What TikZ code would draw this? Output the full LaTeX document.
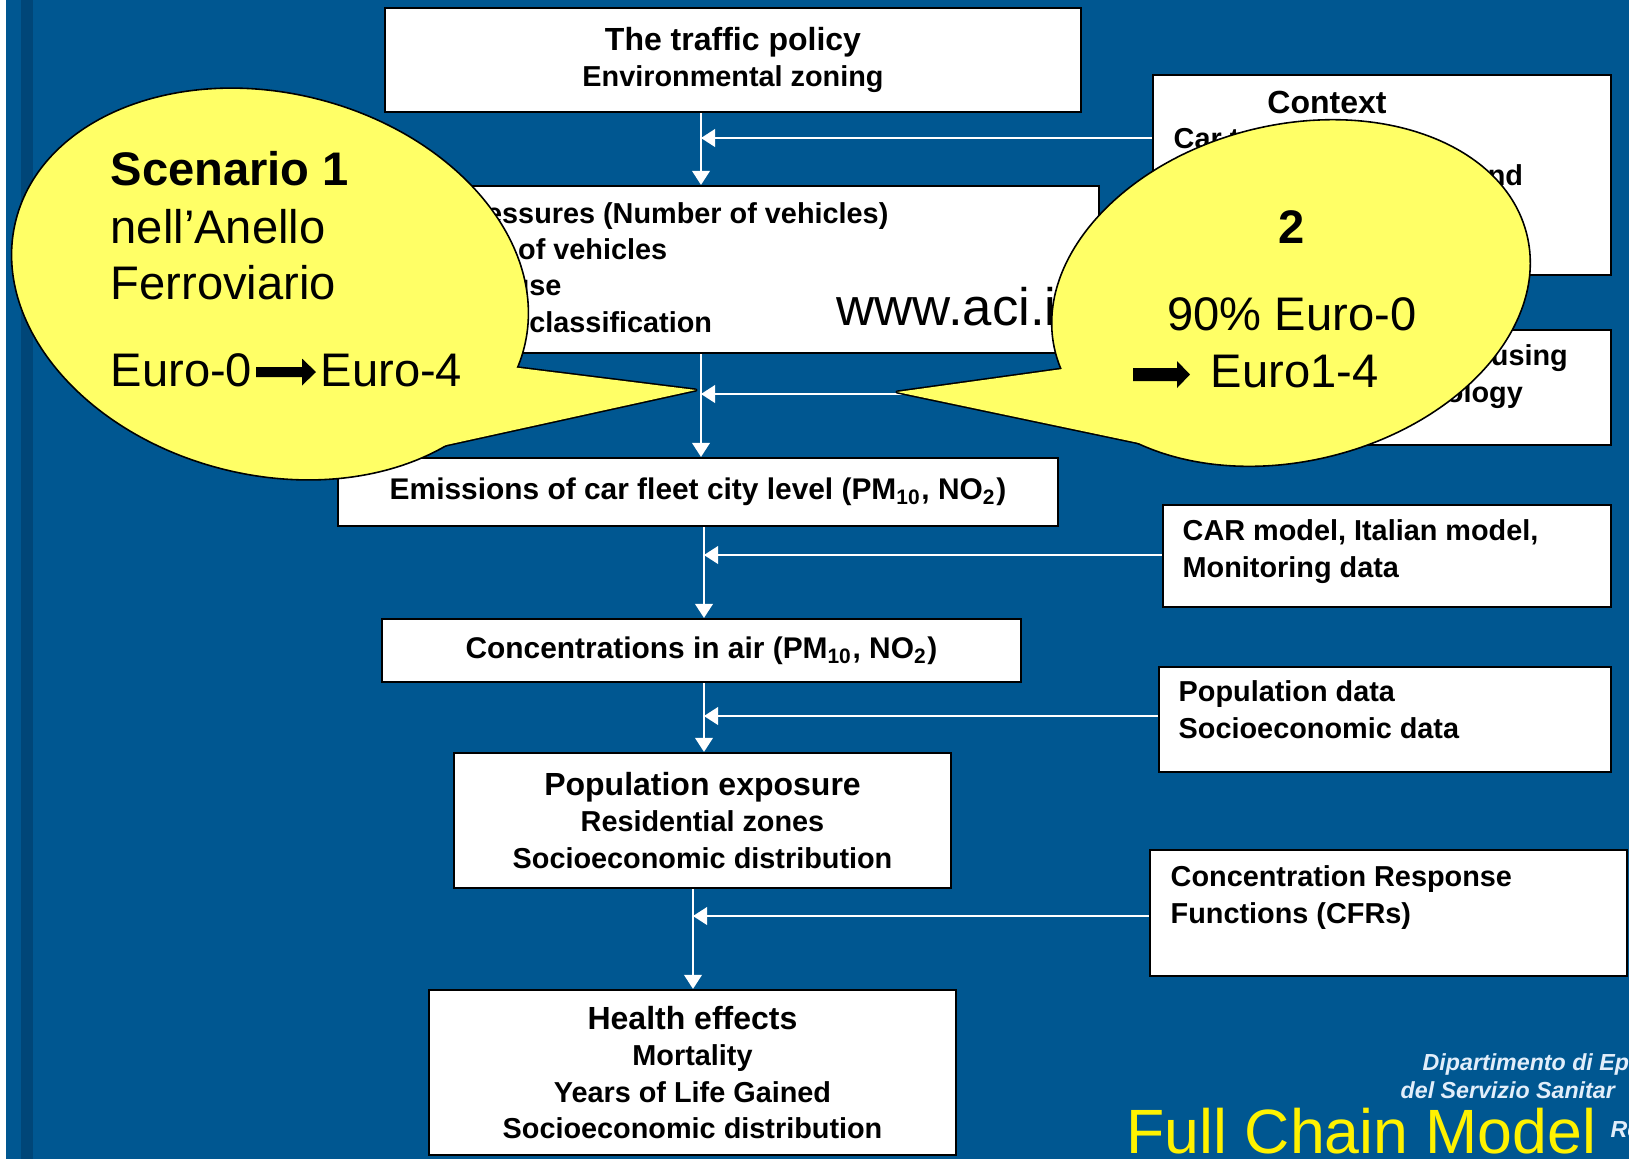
\documentclass[tikz,border=0pt]{standalone}
\usepackage{fontspec}
\setmainfont{Liberation Sans}
\usepackage{tikz}
\usetikzlibrary{calc,positioning,arrows.meta}

\definecolor{slideblue}{RGB}{0,87,145}
\definecolor{stripeblue}{RGB}{0,70,120}
\definecolor{bubbleyellow}{RGB}{255,255,102}
\definecolor{logotext}{RGB}{226,238,250}
\newcommand{\boxhead}{\fontsize{9.1}{10.3}\selectfont}

\begin{document}
\begin{tikzpicture}[x=0.01cm,y=-0.01cm]
\tikzstyle{box}=[draw=black,fill=white,line width=0.6pt,inner sep=0pt,align=center,font=\bfseries\fontsize{8.2}{10.3}\selectfont]
\tikzstyle{boxtext}=[inner sep=0pt,anchor=base west,align=left,font=\bfseries\fontsize{8.2}{10.3}\selectfont]
\tikzstyle{flow}=[white,line width=0.6pt,-{Triangle[length=4pt,width=5pt]}]
\tikzstyle{bubble}=[fill=bubbleyellow,draw=black,line width=0.45pt,line join=round]
\tikzstyle{bubbletext}=[inner sep=0pt,anchor=base west,font=\fontsize{13.4}{16}\selectfont]

\useasboundingbox (0,0) rectangle (1629,1159);
\fill[slideblue] (0,0) rectangle (1629,1159);
\fill[white] (0,0) rectangle (6,1159);
\fill[stripeblue] (21,0) rectangle (33,1159);

% chain of boxes
\node[box,minimum width=6.96cm,minimum height=1.04cm] (policy) at (733,60)
  {{\boxhead The traffic policy}\\Environmental zoning};
\node[box,minimum width=6.79cm,minimum height=1.67cm] (pressures) at (759.5,269.5) {};
\node[boxtext] (pressurestext) at (455,332)
  {Pressures (Number of vehicles)\\Age of vehicles\\Car use\\Euro classification};
\node[box,minimum width=7.20cm,minimum height=0.68cm,font=\bfseries\fontsize{8.5}{10.3}\selectfont] (emissions) at (698,492)
  {Emissions of car fleet city level (PM\textsubscript{10}, NO\textsubscript{2})};
\node[box,minimum width=6.39cm,minimum height=0.63cm,font=\bfseries\fontsize{8.5}{10.3}\selectfont] (concentrations) at (701.5,650.5)
  {Concentrations in air (PM\textsubscript{10}, NO\textsubscript{2})};
\node[box,minimum width=4.97cm,minimum height=1.35cm] (exposure) at (702.5,820.5)
  {{\boxhead Population exposure}\\Residential zones\\Socioeconomic distribution};
\node[box,minimum width=5.27cm,minimum height=1.65cm] (health) at (692.5,1072.5)
  {{\boxhead Health effects}\\Mortality\\Years of Life Gained\\Socioeconomic distribution};

% input boxes on the right
\node[box,minimum width=4.58cm,minimum height=2.00cm] (context) at (1382,175) {};
\node[boxtext,anchor=base,font=\bfseries\boxhead] (contexthead) at (1327,113) {Context};
\node[boxtext] (contexttext) at (1173,185) {Car traffic data,\\car fleet composition and};
\node[box,minimum width=4.58cm,minimum height=1.15cm] (methods) at (1382,387.5) {};
\node[boxtext] (methodstext) at (1213,402) {Emission estimates using\\COPERT methodology};
\node[box,minimum width=4.48cm,minimum height=1.02cm] (airmodel) at (1387,556) {};
\node[boxtext] (airmodeltext) at (1182,577) {CAR model, Italian model,\\Monitoring data};
\node[box,minimum width=4.52cm,minimum height=1.05cm] (popdata) at (1385,719.5) {};
\node[boxtext] (popdatatext) at (1178,738) {Population data\\Socioeconomic data};
\node[box,minimum width=4.77cm,minimum height=1.26cm] (crf) at (1388.5,913) {};
\node[boxtext] (crftext) at (1170,923) {Concentration Response\\Functions (CFRs)};

% connectors
\coordinate (join1) at (701,138);
\coordinate (join2) at (701,394);
\coordinate (join3) at (704,555);
\coordinate (join4) at (704,716);
\coordinate (join5) at (693,916);
\draw[flow] (policy.south -| join1) -- (pressures.north -| join1);
\draw[flow] (context.west |- join1) -- (join1);
\draw[flow] (pressures.south -| join2) -- (emissions.north -| join2);
\draw[flow] (methods.west |- join2) -- (join2);
\draw[flow] (emissions.south -| join3) -- (concentrations.north -| join3);
\draw[flow] (airmodel.west |- join3) -- (join3);
\draw[flow] (concentrations.south -| join4) -- (exposure.north -| join4);
\draw[flow] (popdata.west |- join4) -- (join4);
\draw[flow] (exposure.south -| join5) -- (health.north -| join5);
\draw[flow] (crf.west |- join5) -- (join5);

\node[bubbletext,font=\fontsize{15}{18}\selectfont] (website) at (836,325) {www.aci.it};

% callout scenario 1
\draw[bubble,line width=0.9pt] (696,390) -- (463,361) -- (355,465) -- cycle;
\draw[bubble,rotate around={-14:(270,284)}] (270,284) ellipse [x radius=262,y radius=191];
\fill[bubbleyellow] (696,390) -- (463,361) -- (355,465) -- cycle;
\node[bubbletext,font=\bfseries\fontsize{13.4}{16}\selectfont] (scentitle) at (110,185) {Scenario 1};
\node[bubbletext] (scenring) at (110,243) {nell’Anello};
\node[bubbletext] (scenrail) at (110,299) {Ferroviario};
\node[bubbletext] (scenfrom) at (110,386) {Euro-0};
\fill (256,367) -- (302,367) -- (302,358.5) -- (316,372) -- (302,385.5) -- (302,377) -- (256,377) -- cycle;
\node[bubbletext] (scento) at (320,386) {Euro-4};

% callout scenario 2
\draw[bubble,line width=0.9pt] (897,392) -- (1113,362) -- (1206,457) -- cycle;
\draw[bubble,rotate around={14:(1291,293)}] (1291,293) ellipse [x radius=243,y radius=168];
\fill[bubbleyellow] (897,392) -- (1113,362) -- (1206,457) -- cycle;
\node[bubbletext,anchor=base,font=\bfseries\fontsize{13.4}{16}\selectfont] (sectitle) at (1292,243) {2};
\node[bubbletext,anchor=base] (secfrom) at (1292,330) {90\% Euro-0};
\fill (1133,368) -- (1177,368) -- (1177,361) -- (1190,374.5) -- (1177,388) -- (1177,381) -- (1133,381) -- cycle;
\node[bubbletext] (secto) at (1210,387) {Euro1-4};

% footer
\node[bubbletext,font=\bfseries\itshape\fontsize{6.6}{8}\selectfont,text=logotext] (logoa) at (1422,1070) {Dipartimento di Ep};
\node[bubbletext,font=\bfseries\itshape\fontsize{6.6}{8}\selectfont,text=logotext] (logob) at (1400,1098) {del Servizio Sanitar};
\node[bubbletext,font=\bfseries\itshape\fontsize{6.6}{8}\selectfont,text=logotext] (logoc) at (1610,1137) {Re};
\node[bubbletext,font=\fontsize{17.8}{21}\selectfont,text=yellow] (chaintitle) at (1126,1153) {Full Chain Model};
\end{tikzpicture}
\end{document}
